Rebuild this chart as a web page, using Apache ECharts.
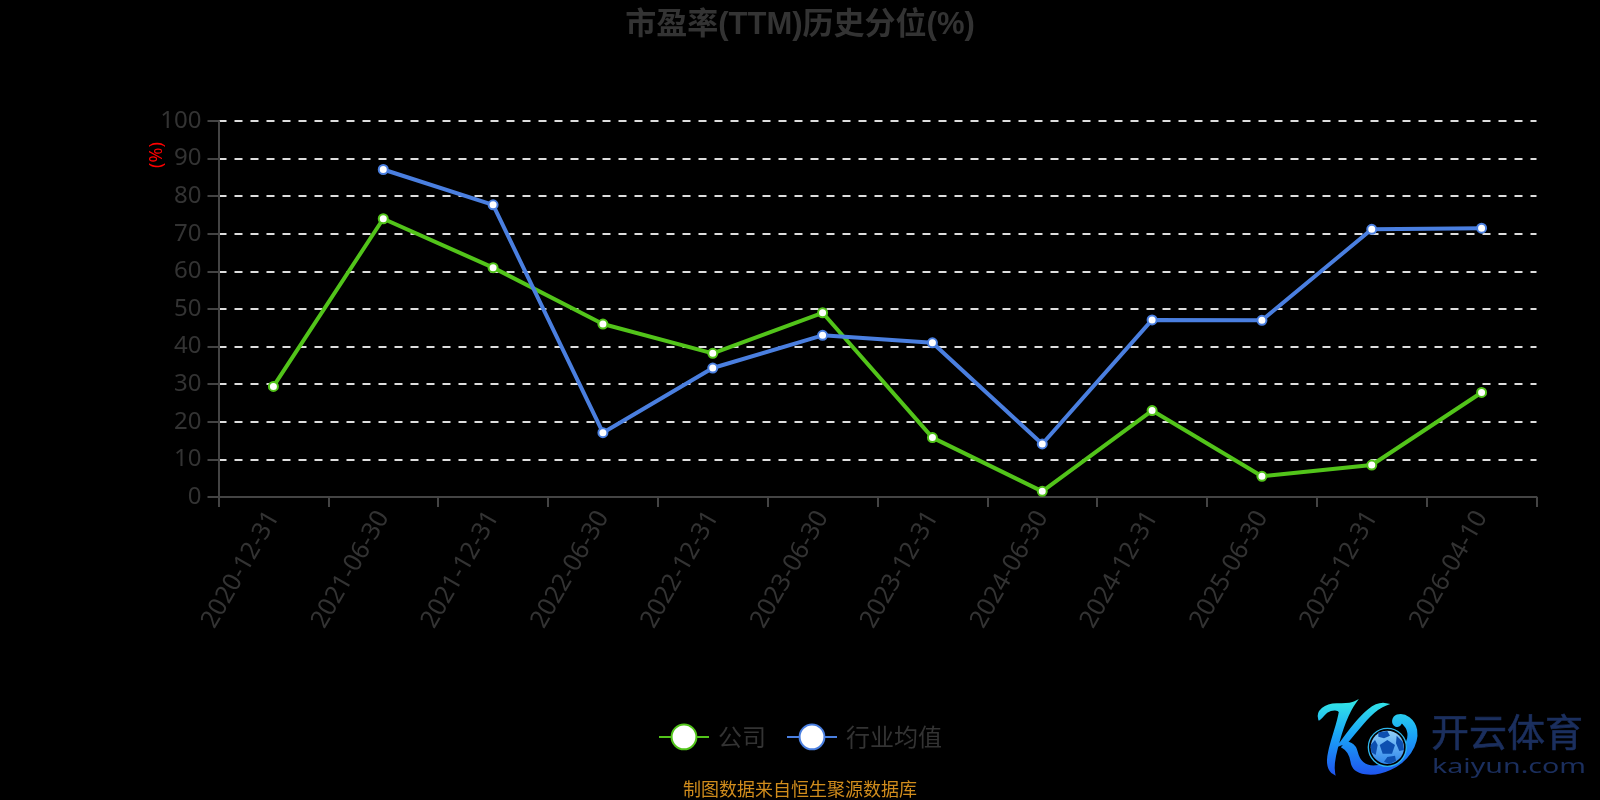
<!DOCTYPE html>
<html><head><meta charset="utf-8">
<style>html,body{margin:0;padding:0;background:#000}#c{width:1600px;height:800px}</style>
<script src="https://cdn.jsdelivr.net/npm/echarts@6/dist/echarts.min.js"></script>
</head><body><div id="c"></div>
<script>
const categories = ['2020-12-31','2021-06-30','2021-12-31','2022-06-30','2022-12-31','2023-06-30','2023-12-31','2024-06-30','2024-12-31','2025-06-30','2025-12-31','2026-04-10'];
const companyValues = [29.4,74,61,46,38.2,49,15.8,1.5,23,5.5,8.5,27.8];
const industryValues = [null,87.1,77.7,17.1,34.3,43,41,14.1,47.1,47,71.2,71.5];
const font = '"Noto Sans","Noto Sans CJK SC",sans-serif';
const cjk = '"Noto Sans CJK SC",sans-serif';
const titleFont = '"Liberation Sans","Noto Sans CJK SC",sans-serif';
const chart = echarts.init(document.getElementById('c'));
const logoSwoosh = 'M28,72 C20,50 45,28 80,28 C100,28 120,30 135,22 C115,50 95,100 80,160 C72,190 68,215 72,235 C55,225 50,205 58,170 C68,125 85,85 90,50 C85,40 65,42 50,50 C42,55 38,65 28,72 Z '
  + 'M228,28 C200,22 165,40 88,150 C118,135 135,150 140,172 C146,197 160,215 190,215 C235,215 285,175 295,130 C300,105 285,85 270,78 C275,85 268,95 258,92 C245,85 248,68 262,62 C285,55 312,75 318,105 C325,150 290,200 240,222 C190,245 130,240 125,200 C122,180 115,165 98,156 C140,110 180,45 228,28 Z';
const logoPanels = 'M232,135 L255,150 L246,176 L218,176 L209,150 Z M205,112 L232,108 L240,122 L222,130 L205,125 Z M260,122 L278,140 L282,165 L268,168 L258,145 Z M195,135 L203,150 L197,180 L184,172 L182,150 Z M232,186 L255,182 L258,197 L238,207 L222,200 Z';
echarts.graphic.registerShape('logoSwoosh', echarts.graphic.extendPath(logoSwoosh, {}));
echarts.graphic.registerShape('logoPanels', echarts.graphic.extendPath(logoPanels, {}));
const logoGrad = new echarts.graphic.LinearGradient(0,0,0,1,[{offset:0,color:'#33e6e6'},{offset:0.45,color:'#1aa6f8'},{offset:1,color:'#1f55ee'}]);
const ballGrad = new echarts.graphic.LinearGradient(0,0,0,1,[{offset:0,color:'#8fd0fa'},{offset:1,color:'#2f86ea'}]);
chart.setOption({
  backgroundColor:'#000',
  animation:false,
  title:{text:'市盈率(TTM)历史分位(%)',left:'center',top:5,textStyle:{color:'#333',fontSize:31,fontWeight:'bold',fontFamily:titleFont}},
  grid:{left:218.5,right:63.5,top:121,bottom:303,containLabel:false},
  legend:{top:718.5,left:653,itemWidth:50,itemHeight:31,itemGap:20,textStyle:{color:'#333',fontSize:24,fontFamily:cjk,padding:[0,0,0,4]},
    data:['公司','行业均值']},
  xAxis:{type:'category',data:categories,boundaryGap:true,
    axisLine:{lineStyle:{color:'#444',width:2}},
    axisTick:{show:true,alignWithLabel:false,length:10,lineStyle:{color:'#444',width:2}},
    axisLabel:{rotate:60,color:'#333',fontSize:25,margin:16,fontFamily:font,interval:0}},
  yAxis:{type:'value',min:0,max:100,interval:10,
    axisLine:{show:true,lineStyle:{color:'#444',width:2}},
    axisTick:{show:true,length:11,lineStyle:{color:'#444',width:2}},
    axisLabel:{color:'#333',fontSize:24,margin:17,fontFamily:font,padding:[0,0,5,0]},
    splitLine:{show:true,lineStyle:{color:'#ddd',type:[8,8],width:2}}},
  series:[
    {name:'公司',type:'line',data:companyValues,symbol:'circle',symbolSize:9,showAllSymbols:true,
      lineStyle:{color:'#52c41a',width:4},itemStyle:{color:'#fff',borderColor:'#52c41a',borderWidth:2}},
    {name:'行业均值',type:'line',data:industryValues,symbol:'circle',symbolSize:9,connectNulls:false,
      lineStyle:{color:'#4a7fe0',width:4},itemStyle:{color:'#fff',borderColor:'#4a7fe0',borderWidth:2}}
  ],
  graphic:[
    {type:'text',x:157,y:155,rotation:Math.PI/2,style:{text:'(%)',fill:'#f00',fontSize:18,fontFamily:font,align:'center',verticalAlign:'middle'}},
    {type:'text',x:800,y:789,style:{text:'制图数据来自恒生聚源数据库',fill:'#d08c1c',fontSize:18,fontFamily:cjk,align:'center',verticalAlign:'middle'}},
    {type:'group',x:1310,y:695,scaleX:1/3,scaleY:1/3,children:[
      {type:'logoSwoosh',style:{fill:logoGrad,stroke:logoGrad,lineWidth:7}},
      {type:'circle',shape:{cx:232,cy:157,r:57},style:{fill:'#000',stroke:'#2fb8ee',lineWidth:4}},
      {type:'circle',shape:{cx:232,cy:157,r:50},style:{fill:ballGrad}},
      {type:'logoPanels',style:{fill:'#0d4fb0'}}
    ]},
    {type:'text',x:1431,y:732,style:{text:'开云体育',fill:'#1b2f5e',stroke:'#1b2f5e',lineWidth:0.6,fontSize:38,fontFamily:cjk,verticalAlign:'middle'}},
    {type:'text',x:1432,y:767,scaleX:1.43,style:{text:'kaiyun.com',fill:'#1b2f5e',fontSize:20,fontFamily:font,verticalAlign:'middle'}}
  ]
});
</script></body></html>
